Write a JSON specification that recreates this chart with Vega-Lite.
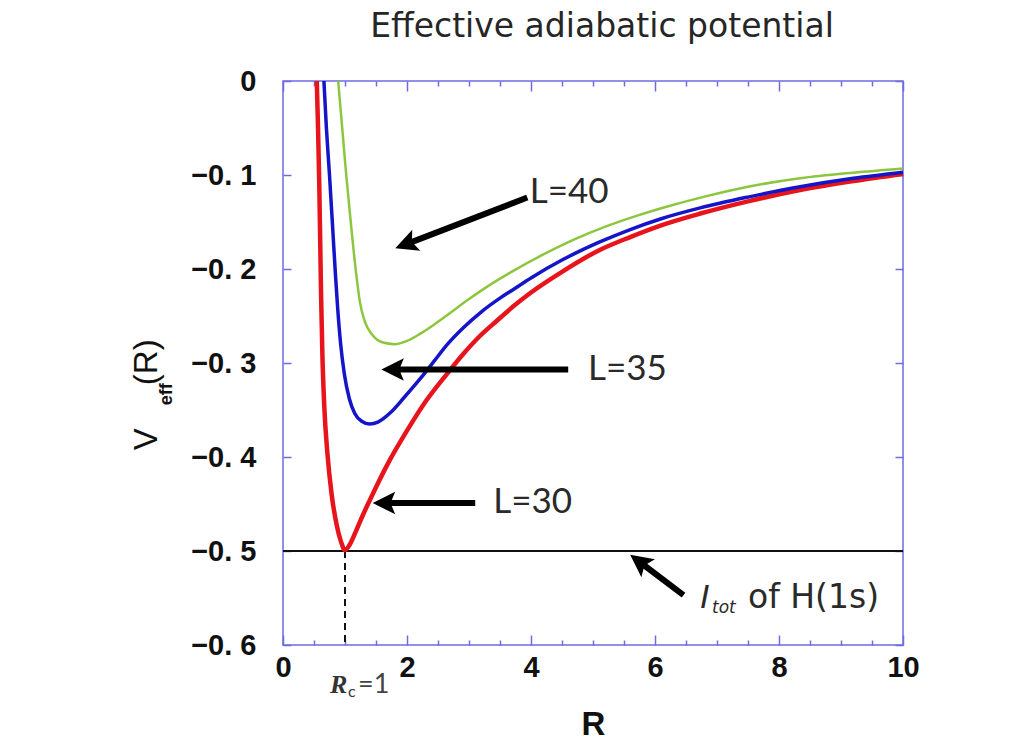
{
  "$schema": "https://vega.github.io/schema/vega-lite/v6.json",
  "width": 620,
  "height": 564,
  "autosize": {"type": "none"},
  "padding": {"left": 283, "top": 81, "right": 121, "bottom": 97},
  "background": "white",
  "title": {"text": "Effective adiabatic potential", "font": "DejaVu Sans", "fontSize": 33, "fontWeight": "normal", "color": "#262626", "anchor": "middle", "baseline": "bottom", "offset": 20, "dx": 9, "dy": 30},
  "config": {
    "view": {"stroke": "#6c6ce0", "strokeWidth": 1.5},
    "axis": {"domain": false, "grid": false, "tickColor": "#6c6ce0", "tickWidth": 1.5, "labelFont": "Liberation Sans", "labelFontWeight": "bold", "labelFontSize": 29, "labelColor": "#111111", "labelFlush": false, "labelOverlap": false}
  },
  "datasets": {
    "curves": [
      {"L": "30", "R": 0.545, "V": 0}, {"L": "30", "R": 0.565, "V": -0.05}, {"L": "30", "R": 0.585, "V": -0.11}, {"L": "30", "R": 0.6, "V": -0.17}, {"L": "30", "R": 0.615, "V": -0.23}, {"L": "30", "R": 0.635, "V": -0.29}, {"L": "30", "R": 0.665, "V": -0.345}, {"L": "30", "R": 0.715, "V": -0.395}, {"L": "30", "R": 0.785, "V": -0.44}, {"L": "30", "R": 0.865, "V": -0.472}, {"L": "30", "R": 0.935, "V": -0.49}, {"L": "30", "R": 1.0, "V": -0.499}, {"L": "30", "R": 1.07, "V": -0.494}, {"L": "30", "R": 1.17, "V": -0.48}, {"L": "30", "R": 1.28, "V": -0.463}, {"L": "30", "R": 1.4, "V": -0.446}, {"L": "30", "R": 1.7, "V": -0.406}, {"L": "30", "R": 2.0, "V": -0.372}, {"L": "30", "R": 2.3, "V": -0.341}, {"L": "30", "R": 2.64, "V": -0.312}, {"L": "30", "R": 2.9, "V": -0.291}, {"L": "30", "R": 3.18, "V": -0.271}, {"L": "30", "R": 3.45, "V": -0.255}, {"L": "30", "R": 3.71, "V": -0.24}, {"L": "30", "R": 4.0, "V": -0.225}, {"L": "30", "R": 4.5, "V": -0.203}, {"L": "30", "R": 5.1, "V": -0.18}, {"L": "30", "R": 5.6, "V": -0.166}, {"L": "30", "R": 6.1, "V": -0.1535}, {"L": "30", "R": 6.73, "V": -0.141}, {"L": "30", "R": 7.5, "V": -0.128}, {"L": "30", "R": 8.34, "V": -0.116}, {"L": "30", "R": 9.2, "V": -0.1065}, {"L": "30", "R": 10, "V": -0.099},
      {"L": "35", "R": 0.66, "V": 0}, {"L": "35", "R": 0.7, "V": -0.05}, {"L": "35", "R": 0.75, "V": -0.1}, {"L": "35", "R": 0.8, "V": -0.155}, {"L": "35", "R": 0.845, "V": -0.205}, {"L": "35", "R": 0.88, "V": -0.24}, {"L": "35", "R": 0.93, "V": -0.28}, {"L": "35", "R": 0.99, "V": -0.312}, {"L": "35", "R": 1.07, "V": -0.338}, {"L": "35", "R": 1.16, "V": -0.354}, {"L": "35", "R": 1.27, "V": -0.362}, {"L": "35", "R": 1.4, "V": -0.365}, {"L": "35", "R": 1.53, "V": -0.363}, {"L": "35", "R": 1.73, "V": -0.353}, {"L": "35", "R": 1.95, "V": -0.337}, {"L": "35", "R": 2.21, "V": -0.317}, {"L": "35", "R": 2.45, "V": -0.297}, {"L": "35", "R": 2.64, "V": -0.281}, {"L": "35", "R": 2.9, "V": -0.263}, {"L": "35", "R": 3.2, "V": -0.2455}, {"L": "35", "R": 3.5, "V": -0.231}, {"L": "35", "R": 3.71, "V": -0.222}, {"L": "35", "R": 4.0, "V": -0.2095}, {"L": "35", "R": 4.5, "V": -0.1905}, {"L": "35", "R": 5.1, "V": -0.1715}, {"L": "35", "R": 5.6, "V": -0.158}, {"L": "35", "R": 6.1, "V": -0.1465}, {"L": "35", "R": 6.73, "V": -0.135}, {"L": "35", "R": 7.5, "V": -0.1235}, {"L": "35", "R": 8.34, "V": -0.1125}, {"L": "35", "R": 9.2, "V": -0.1035}, {"L": "35", "R": 10, "V": -0.097},
      {"L": "40", "R": 0.89, "V": 0}, {"L": "40", "R": 0.955, "V": -0.05}, {"L": "40", "R": 1.02, "V": -0.1}, {"L": "40", "R": 1.1, "V": -0.155}, {"L": "40", "R": 1.18, "V": -0.205}, {"L": "40", "R": 1.24, "V": -0.235}, {"L": "40", "R": 1.32, "V": -0.256}, {"L": "40", "R": 1.44, "V": -0.27}, {"L": "40", "R": 1.6, "V": -0.278}, {"L": "40", "R": 1.8, "V": -0.28}, {"L": "40", "R": 2.0, "V": -0.2765}, {"L": "40", "R": 2.21, "V": -0.269}, {"L": "40", "R": 2.45, "V": -0.2585}, {"L": "40", "R": 2.7, "V": -0.2465}, {"L": "40", "R": 3.0, "V": -0.232}, {"L": "40", "R": 3.3, "V": -0.2185}, {"L": "40", "R": 3.7, "V": -0.2025}, {"L": "40", "R": 4.2, "V": -0.1845}, {"L": "40", "R": 4.7, "V": -0.1685}, {"L": "40", "R": 5.2, "V": -0.155}, {"L": "40", "R": 5.7, "V": -0.1435}, {"L": "40", "R": 6.2, "V": -0.1335}, {"L": "40", "R": 6.8, "V": -0.123}, {"L": "40", "R": 7.5, "V": -0.1125}, {"L": "40", "R": 8.34, "V": -0.1035}, {"L": "40", "R": 9.2, "V": -0.0975}, {"L": "40", "R": 10, "V": -0.093}
    ],
    "shafts": [
      {"R": 3.94, "V": -0.124, "R2": 2.01, "V2": -0.173},
      {"R": 4.6, "V": -0.307, "R2": 1.8, "V2": -0.307},
      {"R": 3.1, "V": -0.449, "R2": 1.66, "V2": -0.449},
      {"R": 6.46, "V": -0.547, "R2": 5.77, "V2": -0.5125}
    ],
    "heads": [
      {"R": 2.01, "V": -0.173, "dir": 249},
      {"R": 1.8, "V": -0.307, "dir": 270},
      {"R": 1.66, "V": -0.449, "dir": 270},
      {"R": 5.77, "V": -0.5125, "dir": 307}
    ]
  },
  "layer": [
    {
      "data": {"values": [{"R": 0, "R2": 10, "V": -0.5}]},
      "mark": {"type": "rule", "color": "#111111", "strokeWidth": 2},
      "encoding": {
        "x": {"field": "R", "type": "quantitative", "scale": {"domain": [0, 10], "nice": false, "zero": false}, "axis": {"orient": "top", "values": [0, 2, 4, 6, 8, 10], "tickSize": -10, "labels": false, "title": null}},
        "x2": {"field": "R2"},
        "y": {"field": "V", "type": "quantitative", "scale": {"domain": [-0.6, 0], "nice": false, "zero": false}, "axis": {"orient": "right", "values": [0, -0.1, -0.2, -0.3, -0.4, -0.5, -0.6], "tickSize": -8, "labels": false, "title": null}}
      }
    },
    {
      "data": {"values": [{"R": 1, "V": -0.5, "V2": -0.6}]},
      "mark": {"type": "rule", "color": "#111111", "strokeWidth": 2, "strokeDash": [7, 5]},
      "encoding": {
        "x": {"field": "R", "type": "quantitative", "scale": {"domain": [0, 10], "nice": false, "zero": false}, "axis": {"orient": "bottom", "values": [0.5, 1, 1.5, 2.5, 3, 3.5, 4.5, 5, 5.5, 6.5, 7, 7.5, 8.5, 9, 9.5], "tickSize": -5, "labels": false, "title": null}},
        "y": {"field": "V", "type": "quantitative", "scale": {"domain": [-0.6, 0], "nice": false, "zero": false}, "axis": null},
        "y2": {"field": "V2"}
      }
    },
    {
      "data": {"name": "curves"},
      "mark": {"type": "line", "interpolate": "monotone"},
      "encoding": {
        "x": {"field": "R", "type": "quantitative", "scale": {"domain": [0, 10], "nice": false, "zero": false}, "axis": {"orient": "bottom", "values": [0, 2, 4, 6, 8, 10], "tickSize": -10, "labelPadding": 18, "title": "R", "titleFont": "Liberation Sans", "titleFontSize": 33, "titleFontWeight": "bold", "titleColor": "#111111", "titleBaseline": "alphabetic", "titleY": 89}},
        "y": {"field": "V", "type": "quantitative", "scale": {"domain": [-0.6, 0], "nice": false, "zero": false}, "axis": {"orient": "left", "values": [0, -0.1, -0.2, -0.3, -0.4, -0.5, -0.6], "tickSize": -8, "labelPadding": 35, "labelExpr": "datum.value == 0 ? '0' : '\u22120. ' + format(-datum.value * 10, '.0f')", "title": null}},
        "color": {"field": "L", "type": "nominal", "scale": {"domain": ["30", "35", "40"], "range": ["#e8141c", "#1414c8", "#8cc63f"]}, "legend": null},
        "strokeWidth": {"field": "L", "type": "nominal", "scale": {"domain": ["30", "35", "40"], "range": [4.5, 2.5, 2.5]}, "legend": null}
      }
    },
    {
      "data": {"name": "shafts"},
      "mark": {"type": "rule", "color": "black", "strokeWidth": 6},
      "encoding": {
        "x": {"field": "R", "type": "quantitative", "scale": {"domain": [0, 10], "nice": false, "zero": false}, "axis": {"orient": "top", "values": [0.5, 1, 1.5, 2.5, 3, 3.5, 4.5, 5, 5.5, 6.5, 7, 7.5, 8.5, 9, 9.5], "tickSize": -5, "labels": false, "title": null}},
        "x2": {"field": "R2"},
        "y": {"field": "V", "type": "quantitative", "scale": {"domain": [-0.6, 0], "nice": false, "zero": false}, "axis": null},
        "y2": {"field": "V2"}
      }
    },
    {
      "data": {"name": "heads"},
      "mark": {"type": "point", "shape": "M0,-1L0.85,0.7L0,0.35L-0.85,0.7Z", "size": 700, "filled": true, "color": "black", "opacity": 1},
      "encoding": {
        "x": {"field": "R", "type": "quantitative", "scale": {"domain": [0, 10], "nice": false, "zero": false}, "axis": null},
        "y": {"field": "V", "type": "quantitative", "scale": {"domain": [-0.6, 0], "nice": false, "zero": false}, "axis": null},
        "angle": {"field": "dir", "type": "quantitative", "scale": null}
      }
    },
    {
      "data": {"values": [{"t": "L=40", "R": 3.98, "V": -0.1302}, {"t": "L=35", "R": 4.92, "V": -0.3184}, {"t": "L=30", "R": 3.39, "V": -0.4597}]},
      "mark": {"type": "text", "font": "Lato", "fontSize": 35, "color": "#2a2a2a", "align": "left", "baseline": "alphabetic"},
      "encoding": {
        "x": {"field": "R", "type": "quantitative", "scale": {"domain": [0, 10], "nice": false, "zero": false}, "axis": null},
        "y": {"field": "V", "type": "quantitative", "scale": {"domain": [-0.6, 0], "nice": false, "zero": false}, "axis": null},
        "text": {"field": "t"}
      }
    },
    {
      "data": {"values": [{"t": "of H(1s)", "R": 7.5, "V": -0.561}]},
      "mark": {"type": "text", "font": "DejaVu Sans", "fontSize": 33, "color": "#2a2a2a", "align": "left", "baseline": "alphabetic"},
      "encoding": {
        "x": {"field": "R", "type": "quantitative", "scale": {"domain": [0, 10], "nice": false, "zero": false}, "axis": null},
        "y": {"field": "V", "type": "quantitative", "scale": {"domain": [-0.6, 0], "nice": false, "zero": false}, "axis": null},
        "text": {"field": "t"}
      }
    },
    {
      "data": {"values": [{"t": "I", "R": 6.73, "V": -0.561}]},
      "mark": {"type": "text", "font": "DejaVu Sans", "fontSize": 32, "fontStyle": "italic", "color": "#2a2a2a", "align": "left", "baseline": "alphabetic"},
      "encoding": {
        "x": {"field": "R", "type": "quantitative", "scale": {"domain": [0, 10], "nice": false, "zero": false}, "axis": null},
        "y": {"field": "V", "type": "quantitative", "scale": {"domain": [-0.6, 0], "nice": false, "zero": false}, "axis": null},
        "text": {"field": "t"}
      }
    },
    {
      "data": {"values": [{"t": "tot", "R": 6.92, "V": -0.566}]},
      "mark": {"type": "text", "font": "DejaVu Sans", "fontSize": 17, "fontStyle": "italic", "color": "#2a2a2a", "align": "left", "baseline": "alphabetic"},
      "encoding": {
        "x": {"field": "R", "type": "quantitative", "scale": {"domain": [0, 10], "nice": false, "zero": false}, "axis": null},
        "y": {"field": "V", "type": "quantitative", "scale": {"domain": [-0.6, 0], "nice": false, "zero": false}, "axis": null},
        "text": {"field": "t"}
      }
    },
    {
      "data": {"values": [{"t": "R", "R": 0.758, "V": -0.651}]},
      "mark": {"type": "text", "font": "Liberation Serif", "fontSize": 26, "fontStyle": "italic", "fontWeight": "bold", "color": "#333333", "align": "left", "baseline": "alphabetic"},
      "encoding": {
        "x": {"field": "R", "type": "quantitative", "scale": {"domain": [0, 10], "nice": false, "zero": false}, "axis": null},
        "y": {"field": "V", "type": "quantitative", "scale": {"domain": [-0.6, 0], "nice": false, "zero": false}, "axis": null},
        "text": {"field": "t"}
      }
    },
    {
      "data": {"values": [{"t": "c", "R": 1.048, "V": -0.6554}]},
      "mark": {"type": "text", "font": "Lato", "fontSize": 16, "color": "#333333", "align": "left", "baseline": "alphabetic"},
      "encoding": {
        "x": {"field": "R", "type": "quantitative", "scale": {"domain": [0, 10], "nice": false, "zero": false}, "axis": null},
        "y": {"field": "V", "type": "quantitative", "scale": {"domain": [-0.6, 0], "nice": false, "zero": false}, "axis": null},
        "text": {"field": "t"}
      }
    },
    {
      "data": {"values": [{"t": "=1", "R": 1.21, "V": -0.651}]},
      "mark": {"type": "text", "font": "Lato", "fontSize": 27, "color": "#444444", "align": "left", "baseline": "alphabetic"},
      "encoding": {
        "x": {"field": "R", "type": "quantitative", "scale": {"domain": [0, 10], "nice": false, "zero": false}, "axis": null},
        "y": {"field": "V", "type": "quantitative", "scale": {"domain": [-0.6, 0], "nice": false, "zero": false}, "axis": null},
        "text": {"field": "t"}
      }
    },
    {
      "data": {"values": [{"t": "V", "R": -2.03, "V": -0.3927}, {"t": "(R)", "R": -2.03, "V": -0.3236}]},
      "mark": {"type": "text", "font": "Liberation Sans", "fontSize": 33, "color": "#111111", "align": "left", "baseline": "alphabetic", "angle": 270},
      "encoding": {
        "x": {"field": "R", "type": "quantitative", "scale": {"domain": [0, 10], "nice": false, "zero": false}, "axis": null},
        "y": {"field": "V", "type": "quantitative", "scale": {"domain": [-0.6, 0], "nice": false, "zero": false}, "axis": null},
        "text": {"field": "t"}
      }
    },
    {
      "data": {"values": [{"t": "eff", "R": -1.79, "V": -0.345}]},
      "mark": {"type": "text", "font": "Liberation Sans", "fontSize": 18, "fontWeight": "bold", "color": "#111111", "align": "left", "baseline": "alphabetic", "angle": 270},
      "encoding": {
        "x": {"field": "R", "type": "quantitative", "scale": {"domain": [0, 10], "nice": false, "zero": false}, "axis": null},
        "y": {"field": "V", "type": "quantitative", "scale": {"domain": [-0.6, 0], "nice": false, "zero": false}, "axis": null},
        "text": {"field": "t"}
      }
    }
  ],
  "resolve": {"axis": {"x": "independent", "y": "independent"}}
}
